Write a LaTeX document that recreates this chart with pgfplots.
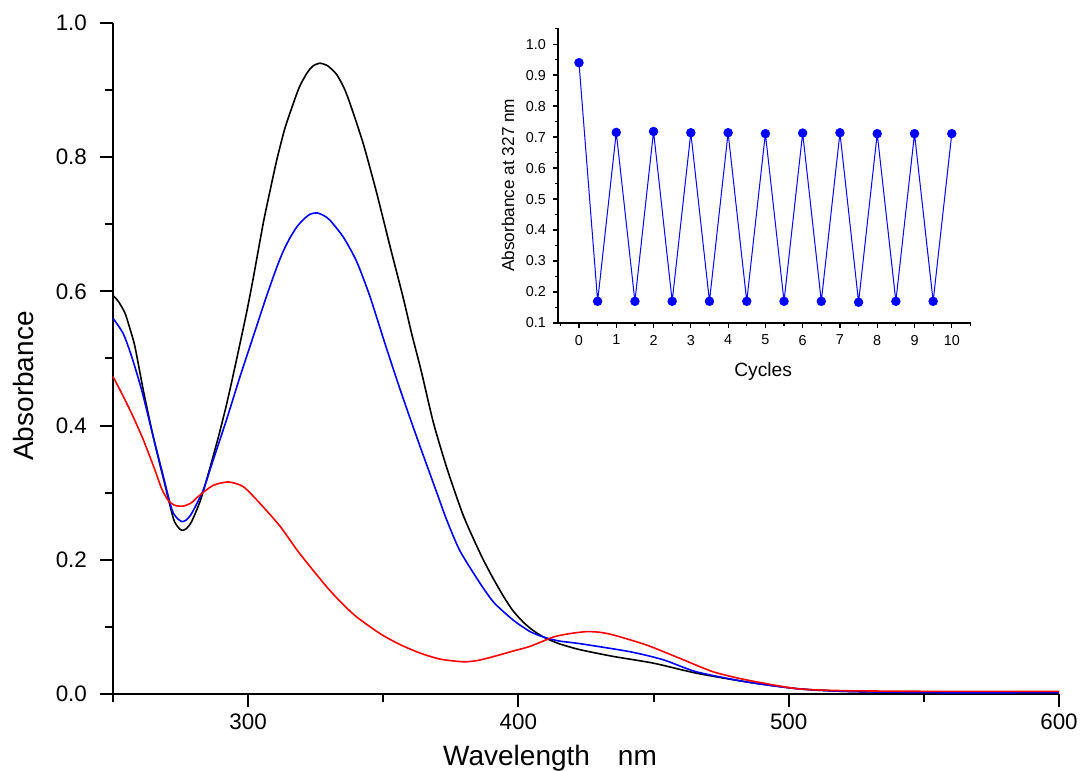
\documentclass[border=0pt]{standalone}
\usepackage{pgfplots}
\pgfplotsset{compat=1.18}
\usepackage{fontspec}
\setmainfont{Liberation Sans}

% UV-vis spectra (absorbance vs wavelength)
\pgfplotstableread{
x y
250 0.594
252 0.585
254.4 0.568
256 0.548
258.1 0.518
261.2 0.453
264.9 0.383
268.6 0.322
272.3 0.262
274 0.249
275.4 0.244
277 0.246
279.1 0.257
282.8 0.294
288.4 0.374
292.1 0.433
295.8 0.500
299.5 0.570
301.9 0.620
305.6 0.702
308 0.748
310.6 0.796
313.6 0.843
316.7 0.880
319 0.905
321.7 0.925
324 0.936
326.6 0.940
329.5 0.936
332.8 0.923
335.5 0.903
337.7 0.880
342.6 0.820
347.6 0.746
352.5 0.667
357.4 0.590
360.5 0.537
364 0.482
368.5 0.405
373.5 0.337
379.6 0.266
385.8 0.210
390 0.177
394.4 0.146
398 0.124
401.8 0.107
405 0.096
409.2 0.085
415 0.075
422.8 0.066
435.1 0.056
449.9 0.046
465.9 0.031
484.4 0.018
502.9 0.008
520 0.004
550 0.002
600 0.001
}\spectrumA

\pgfplotstableread{
x y
250 0.560
253.8 0.537
256.9 0.503
260.6 0.453
264.3 0.393
268.0 0.334
271.7 0.276
273.5 0.263
275.4 0.257
277 0.259
279.1 0.269
283.4 0.304
287.1 0.349
292.1 0.410
297.0 0.473
301.9 0.533
306.9 0.594
310.6 0.636
313 0.660
315.5 0.680
318 0.696
320.4 0.707
322.9 0.715
325.4 0.717
328 0.713
330.3 0.706
335.2 0.681
340.1 0.645
345.1 0.592
351.2 0.515
357.4 0.440
363.6 0.369
369.8 0.300
373.5 0.259
378.4 0.213
385.8 0.165
391 0.136
398.1 0.110
404.3 0.093
409.2 0.085
415 0.079
422.8 0.075
441.3 0.063
453.6 0.051
465.9 0.033
484.4 0.018
502.9 0.008
520 0.004
550 0.002
600 0.002
}\spectrumB

\pgfplotstableread{
x y
250 0.473
252.6 0.453
256.9 0.418
261.2 0.379
265.5 0.334
268 0.306
270.5 0.288
273 0.281
276 0.280
279 0.285
282 0.296
287.1 0.311
292.7 0.316
298.2 0.309
304.4 0.284
311.8 0.250
318.0 0.215
323.5 0.187
329.0 0.160
334.5 0.136
340.1 0.115
348.8 0.090
356 0.074
363.6 0.061
371 0.052
379.6 0.048
385 0.050
391.9 0.057
398 0.064
404.3 0.071
413.0 0.085
419 0.090
425.2 0.093
430 0.092
435.1 0.088
447.4 0.073
459.8 0.053
472.1 0.033
484.4 0.021
502.9 0.008
520 0.005
550 0.004
600 0.004
}\spectrumC

% Absorbance at 327 nm over switching cycles
\pgfplotstableread{
x y
0 0.940
0.5 0.170
1 0.715
1.5 0.170
2 0.718
2.5 0.170
3 0.714
3.5 0.170
4 0.714
4.5 0.170
5 0.711
5.5 0.170
6 0.713
6.5 0.170
7 0.714
7.5 0.167
8 0.711
8.5 0.170
9 0.711
9.5 0.170
10 0.711
}\cycles

\begin{document}
\begin{tikzpicture}
\useasboundingbox (-56.5pt,-38.5pt) rectangle (485pt,347pt);
\begin{axis}[
  at={(0,0)}, anchor=south west,
  scale only axis, width=473pt, height=335.5pt,
  xmin=250, xmax=600, ymin=0, ymax=1.0,
  axis x line*=bottom, axis y line*=left,
  axis line style={line width=1pt},
  every tick/.style={black, line width=1pt},
  tick align=outside,
  major tick length=6.5pt, minor tick length=4pt,
  xtick={300,400,500,600}, minor xtick={250,350,450,550},
  ytick={0,0.2,0.4,0.6,0.8,1.0}, minor ytick={0.1,0.3,0.5,0.7,0.9},
  /pgf/number format/assume math mode=true,
  yticklabel style={/pgf/number format/.cd, fixed, fixed zerofill, precision=1, /tikz/.cd, xshift=-3pt},
  xticklabel style={/pgf/number format/.cd, fixed, precision=0},
  tick label style={font=\fontsize{11.2}{13}\selectfont},
  xlabel={Wavelength\quad nm},
  ylabel={Absorbance},
  label style={font=\fontsize{14}{16}\selectfont},
  xlabel style={at={(axis description cs:0.462,0)}, anchor=north, yshift=-22pt},
  ylabel style={at={(axis description cs:0,0.459)}, anchor=south, yshift=36pt},
  clip=false,
]
\addplot[black, line width=0.8pt, smooth, tension=0.4] table {\spectrumA};
\addplot[blue, line width=0.8pt, smooth, tension=0.4] table {\spectrumB};
\addplot[red, line width=0.8pt, smooth, tension=0.4] table {\spectrumC};
\end{axis}

\begin{axis}[
  at={(222.5pt,185.5pt)}, anchor=south west,
  scale only axis, width=206.4pt, height=147.5pt,
  xmin=-0.563, xmax=10.51, ymin=0.1, ymax=1.052,
  axis x line*=bottom, axis y line*=left,
  axis line style={line width=0.6pt},
  every tick/.style={black, line width=0.6pt},
  tick align=outside,
  major tick length=2.5pt, minor tick length=1.6pt,
  xtick={0,1,...,10}, minor xtick={-0.5,0.5,1.5,...,10.5},
  ytick={0.1,0.2,...,1.0}, minor ytick={0.15,0.25,...,1.05},
  /pgf/number format/assume math mode=true,
  yticklabel style={/pgf/number format/.cd, fixed, fixed zerofill, precision=1},
  tick label style={font=\fontsize{7.2}{8.5}\selectfont},
  xlabel={Cycles},
  ylabel={Absorbance at 327 nm},
  xlabel style={font=\fontsize{9.6}{11}\selectfont, at={(axis description cs:0.497,0)}, anchor=center, yshift=-24.5pt},
  ylabel style={font=\fontsize{8.6}{10}\selectfont, at={(axis description cs:0,0.467)}, anchor=center, yshift=25pt},
  clip=false,
]
\addplot[blue, line width=0.5pt, mark=*, mark size=2.1pt] table {\cycles};
\end{axis}
\end{tikzpicture}
\end{document}
